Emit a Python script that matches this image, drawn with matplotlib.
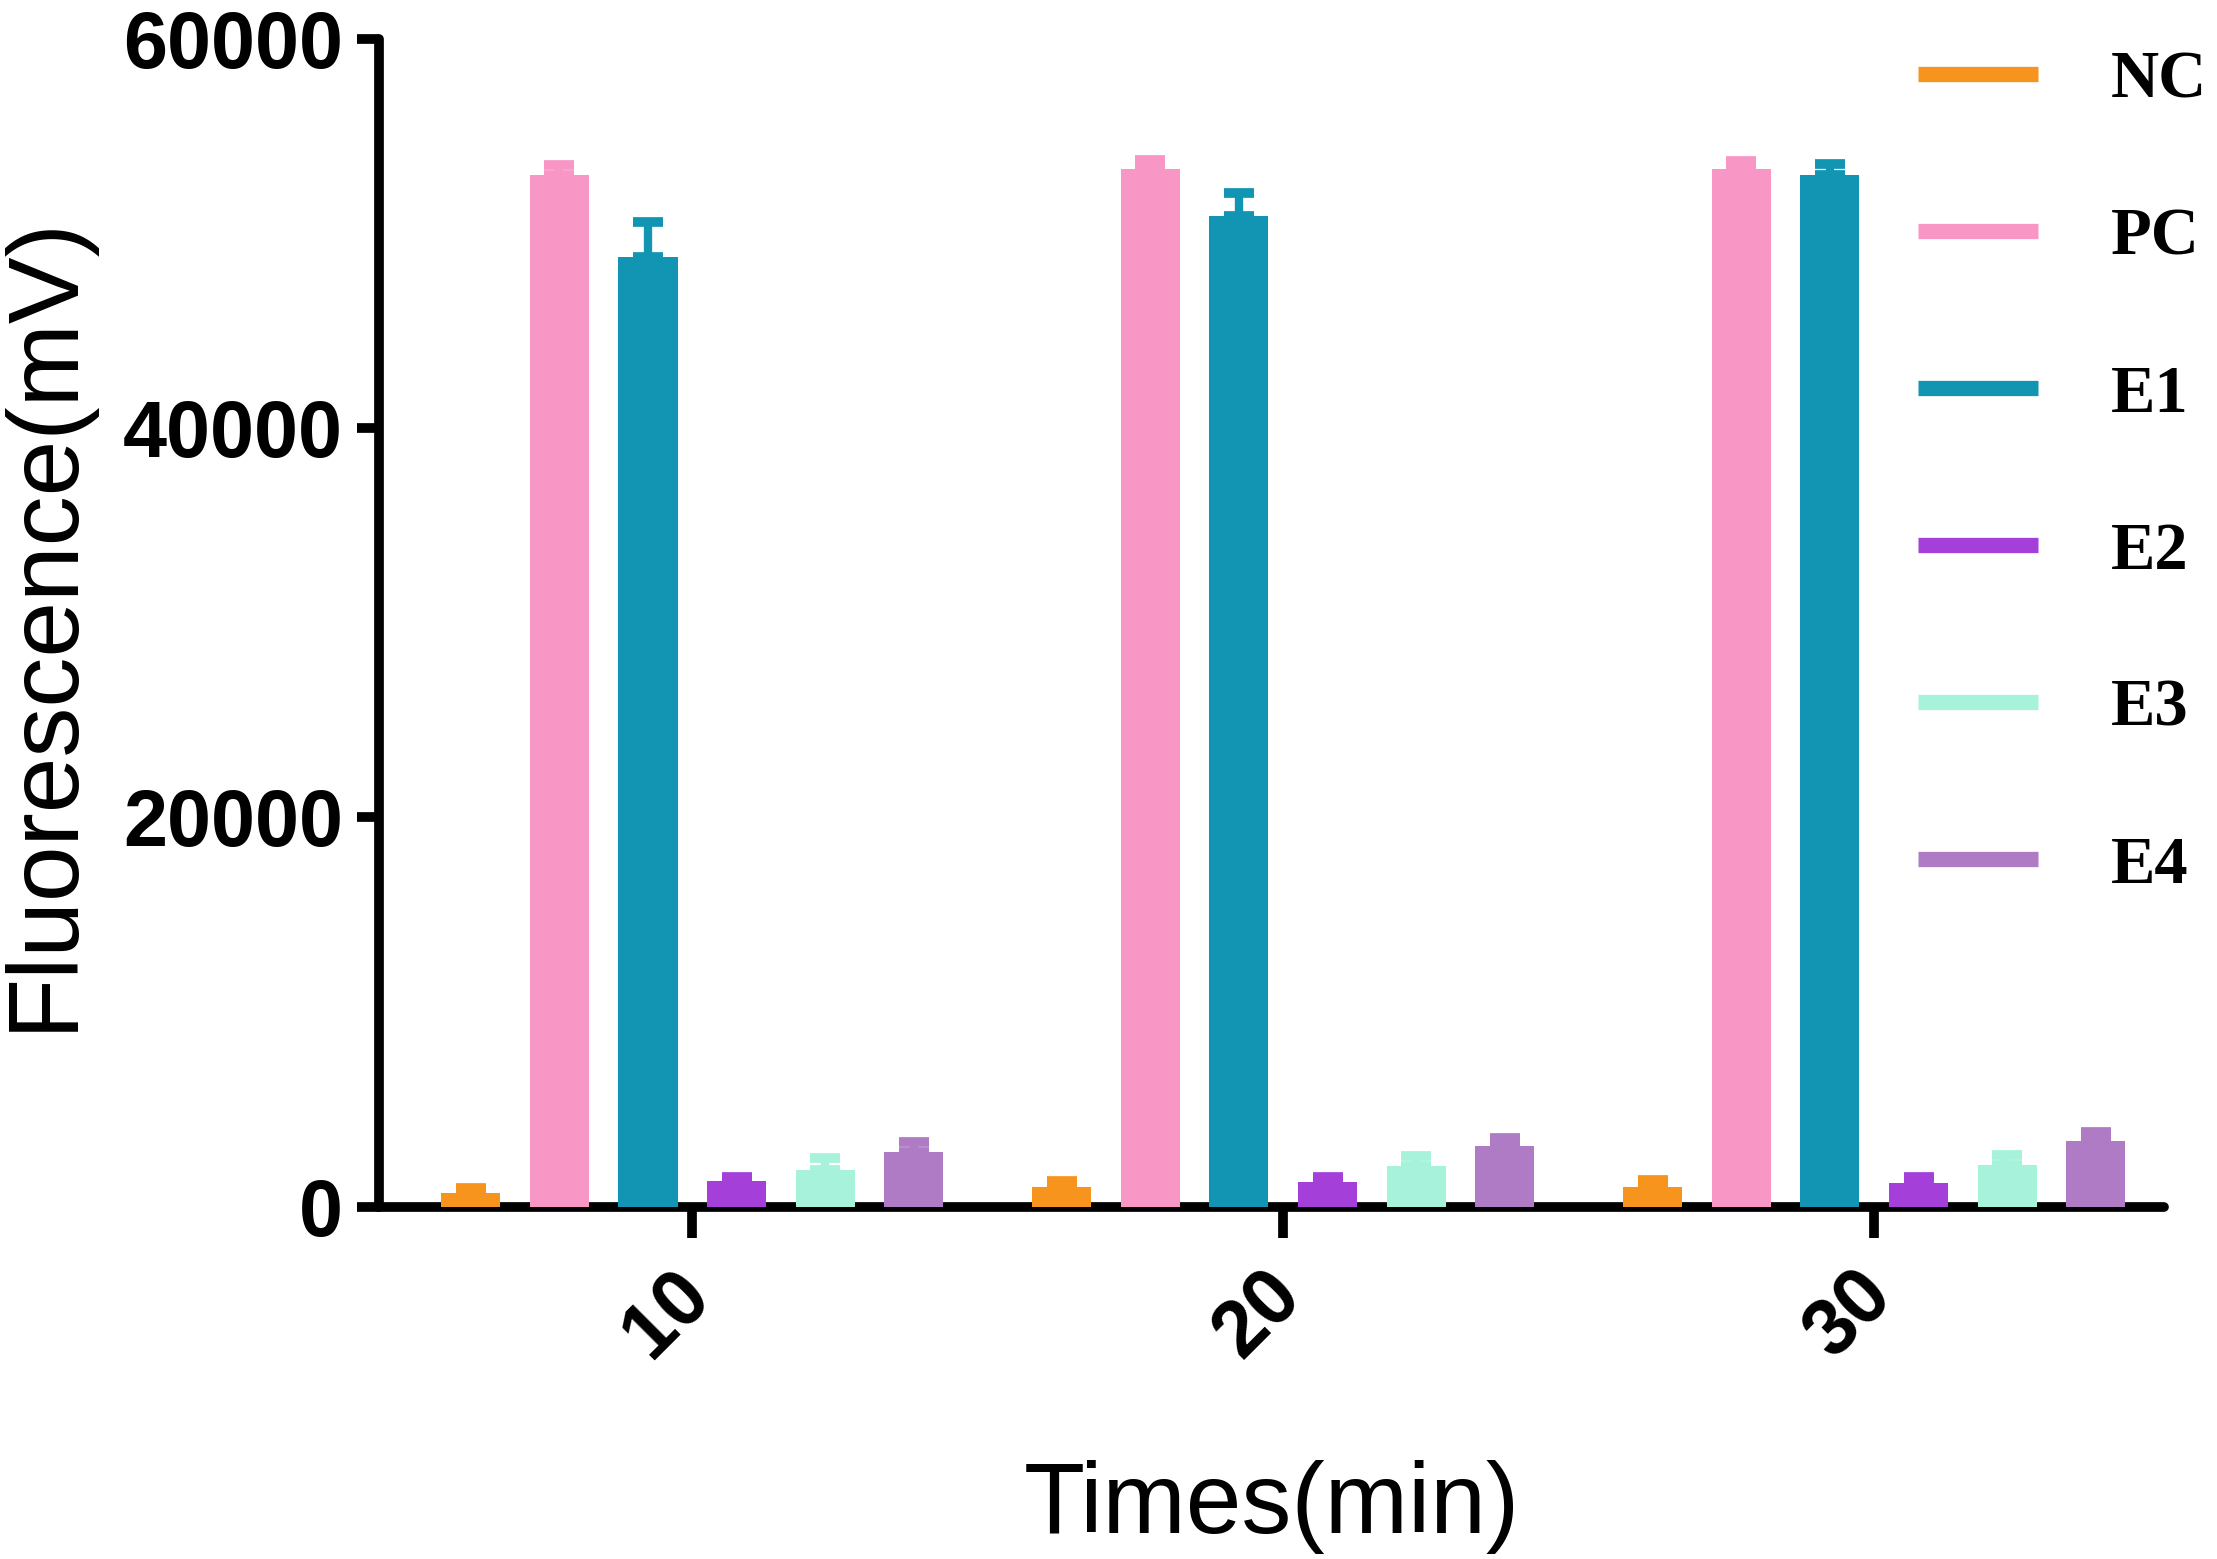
import matplotlib
matplotlib.use("Agg")
import matplotlib.pyplot as plt
import matplotlib.transforms as mtransforms
import numpy as np
from matplotlib.lines import Line2D

times = ["10", "20", "30"]
groups = ["NC", "PC", "E1", "E2", "E3", "E4"]
colors = ["#F7941D", "#F896C6", "#1195B2", "#A53FDA", "#A6F2DA", "#AF7BC4"]

NC = [700, 1000, 1000]
PC = [53000, 53300, 53300]
E1 = [48800, 50900, 53000]
E2 = [1300, 1250, 1200]
E3 = [1900, 2100, 2150]
E4 = [2800, 3100, 3350]

NC_err = [250, 300, 350]
PC_err = [550, 500, 450]
E1_err = [1800, 1200, 600]
E2_err = [220, 300, 350]
E3_err = [600, 500, 500]
E4_err = [500, 450, 500]

values = [NC, PC, E1, E2, E3, E4]
errors = [NC_err, PC_err, E1_err, E2_err, E3_err, E4_err]

fig = plt.figure(figsize=(22.17, 15.59), dpi=100)
ax = fig.add_axes([0.171, 0.226, 0.976 - 0.171, 0.975 - 0.226])

xc = np.arange(len(times))
step = 0.15
width = 0.10
for i, (g, vals, errs, c) in enumerate(zip(groups, values, errors, colors)):
    pos = xc + (i - 2.5) * step
    ax.bar(pos, vals, width=width, color=c, edgecolor="none", zorder=3)
    ax.errorbar(pos, vals, yerr=[np.zeros(len(errs)), errs], fmt="none",
                ecolor=c, elinewidth=6, capsize=11, capthick=7, zorder=2)

ax.set_xlim(-0.53, 2.49)
ax.set_ylim(0, 60000)
ax.set_yticks([0, 20000, 40000, 60000])
ax.set_yticklabels(["0", "20000", "40000", "60000"])
ax.set_xticks(xc)
ax.set_xticklabels(times, rotation=45, ha="right", va="top", rotation_mode="anchor")

for s in ["top", "right"]:
    ax.spines[s].set_visible(False)
for s in ["left", "bottom"]:
    ax.spines[s].set_linewidth(7)
    ax.spines[s].set_capstyle("round")

ax.tick_params(axis="both", width=7, length=16, labelsize=57, direction="out")
ax.tick_params(axis="x", length=22, pad=14)
ax.tick_params(axis="y", pad=10)
for lab in ax.get_xticklabels() + ax.get_yticklabels():
    lab.set_fontfamily("Liberation Sans")
    lab.set_fontweight("bold")
offset = mtransforms.ScaledTranslation(-0.21, 0, fig.dpi_scale_trans)
for lab in ax.get_xticklabels():
    lab.set_transform(lab.get_transform() + offset)

ax.set_ylabel("Fluorescence(mV)", fontsize=72, fontfamily="Liberation Sans")
ax.set_xlabel("Times(min)", fontsize=72, fontfamily="Liberation Sans")
ax.yaxis.set_label_coords(-0.161, 0.5)
ax.xaxis.set_label_coords(0.5, -0.217)

handles = [Line2D([0], [0], color=c, lw=11, solid_capstyle="butt") for c in colors]
leg = fig.legend(handles, groups, loc="upper left", bbox_to_anchor=(0.838, 1.006),
                 frameon=False, handlelength=1.8, labelspacing=1.44, handletextpad=1.1,
                 prop={"family": "Liberation Serif", "weight": "bold", "size": 48})

fig.savefig("out.png", dpi=100)
